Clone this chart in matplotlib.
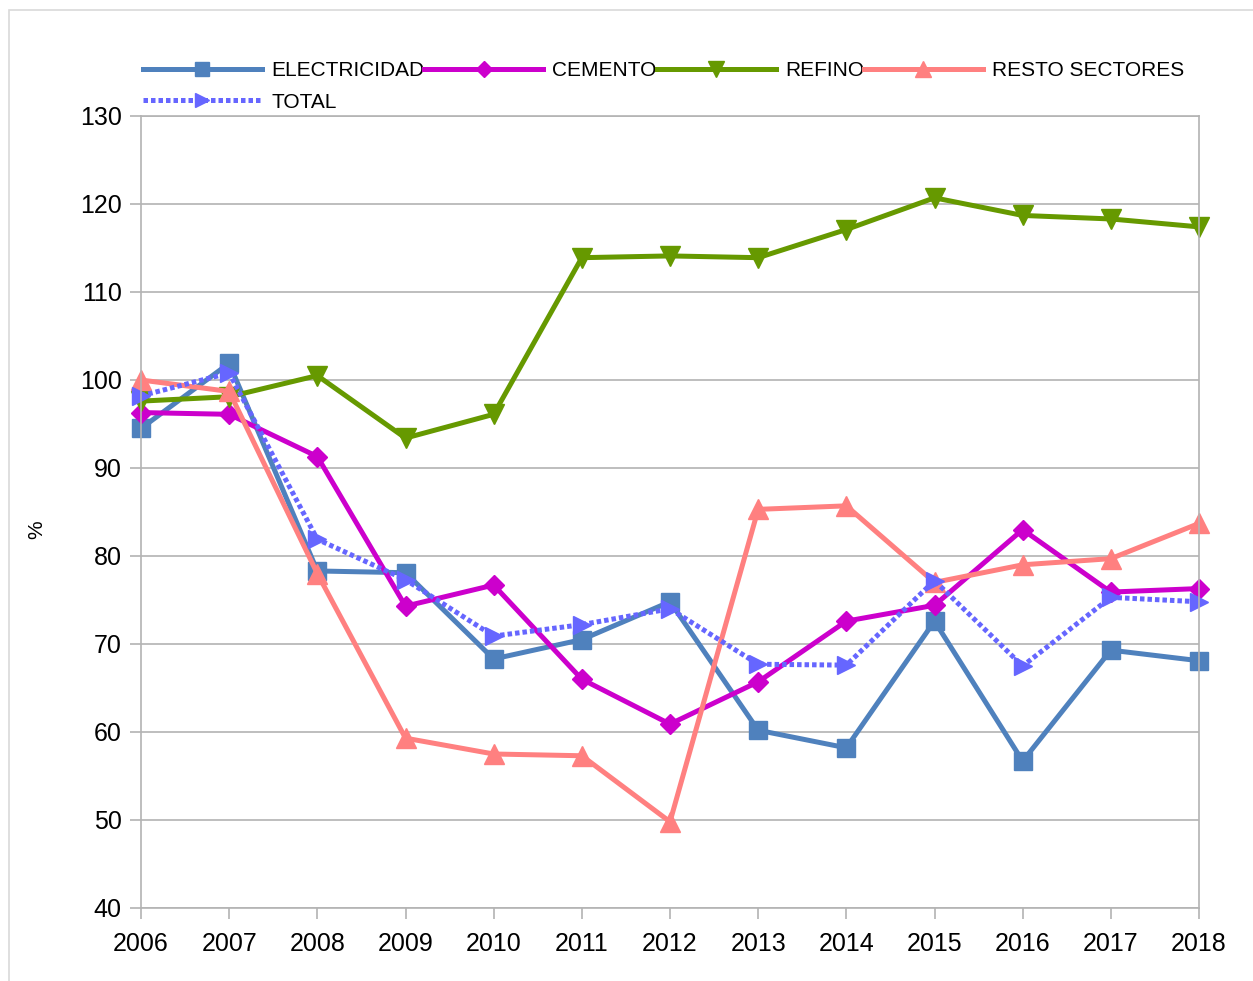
import matplotlib
matplotlib.use('Agg')
from matplotlib import pyplot as plt
from matplotlib.patches import Rectangle

plt.rcParams['font.family'] = ['Liberation Sans', 'DejaVu Sans']

years = [2006, 2007, 2008, 2009, 2010, 2011, 2012, 2013, 2014, 2015, 2016, 2017, 2018]
electricidad = [94.5, 101.9, 78.3, 78.1, 68.3, 70.5, 74.8, 60.2, 58.2, 72.6, 56.7, 69.3, 68.1]
cemento = [96.3, 96.1, 91.3, 74.3, 76.7, 66.0, 60.9, 65.7, 72.6, 74.4, 83.0, 75.9, 76.3]
refino = [97.6, 98.1, 100.5, 93.4, 96.1, 113.9, 114.1, 113.9, 117.1, 120.7, 118.7, 118.3, 117.4]
resto = [100.0, 98.7, 78.0, 59.3, 57.5, 57.3, 49.8, 85.3, 85.7, 77.0, 79.0, 79.7, 83.7]
total = [98.2, 100.8, 81.9, 77.3, 70.9, 72.2, 74.0, 67.7, 67.6, 77.2, 67.5, 75.3, 74.8]

fig = plt.figure(figsize=(12.53, 9.81), dpi=100)
ax = fig.add_axes([141/1253, 1 - 908/981, (1199 - 141)/1253, (908 - 116)/981])

# light frame round the chart (top and left only show)
fig.patches.append(Rectangle((9/1253, -0.1), 1.2, 1.1 - 10/981, transform=fig.transFigure,
                             fill=False, edgecolor='#d9d9d9', linewidth=1.2))

lw = 3.6
h_el, = ax.plot(years, electricidad, color='#4f81bd', lw=lw, marker='s', ms=13, label='ELECTRICIDAD', clip_on=False)
h_ce, = ax.plot(years, cemento, color='#cc00cc', lw=lw, marker='D', ms=10, label='CEMENTO', clip_on=False)
h_re, = ax.plot(years, refino, color='#669900', lw=lw, marker='v', ms=14, label='REFINO', clip_on=False)
h_rs, = ax.plot(years, resto, color='#ff8080', lw=lw, marker='^', ms=14, label='RESTO SECTORES', clip_on=False)
h_to, = ax.plot(years, total, color='#6666ff', lw=lw, ls=(0, (0.9, 0.6)), marker='>', ms=13, label='TOTAL', clip_on=False)

ax.set_xlim(2006, 2018)
ax.set_ylim(40, 130)
ax.set_xticks(years)
ax.set_yticks(range(40, 131, 10))
ax.grid(axis='y', color='#b3b3b3', lw=1.2)
ax.set_axisbelow(True)
for s in ax.spines.values():
    s.set_color('#b3b3b3')
    s.set_linewidth(1.2)
ax.tick_params(axis='both', direction='out', length=8, width=1.2, color='#b3b3b3',
               labelsize=18, pad=6)
ax.tick_params(axis='x', pad=9)
ax.set_ylabel('%', fontsize=15)
ax.yaxis.set_label_coords(-0.09, 0.478)

fig.legend([h_el, h_to, h_ce, h_re, h_rs],
           ['ELECTRICIDAD', 'TOTAL', 'CEMENTO', 'REFINO', 'RESTO SECTORES'],
           ncol=4, loc='upper left', bbox_to_anchor=(143/1253, 1 - 61/981),
           frameon=False, fontsize=15, handlelength=5.7, handletextpad=0.45,
           columnspacing=0.0, labelspacing=0.6, borderpad=0, borderaxespad=0,
           markerscale=0.8)

fig.savefig('out.png', dpi=100)
